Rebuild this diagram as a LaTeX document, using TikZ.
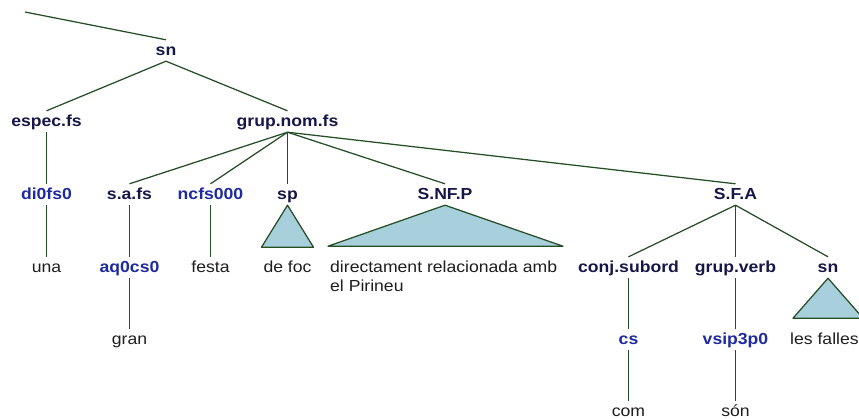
\documentclass[tikz,border=0pt]{standalone}
\usepackage{fontspec}
\setmainfont{Liberation Sans}[FakeStretch=1.1]
\definecolor{navy}{RGB}{22,22,72}
\definecolor{tagblue}{RGB}{30,42,160}
\definecolor{wordc}{RGB}{30,30,30}
\definecolor{linec}{RGB}{38,78,38}
\definecolor{trifill}{RGB}{168,208,220}
\tikzset{
  lbl/.style={anchor=base, font=\fontsize{16}{19}\selectfont\bfseries, text=navy,
    text height=12pt, text depth=3pt, inner xsep=0pt, inner ysep=3pt},
  tag/.style={lbl, text=tagblue},
  word/.style={anchor=base, font=\fontsize{16}{19}\selectfont, text=wordc,
    text height=12pt, text depth=3pt, inner xsep=0pt, inner ysep=3pt},
  edge/.style={draw=linec, line width=1.25pt},
  tri/.style={draw=linec, fill=trifill, line width=1.25pt, line join=round}
}
\begin{document}
\begin{tikzpicture}[x=1pt,y=-1pt]
\useasboundingbox (0,0) rectangle (859,418);
\clip (0,0) rectangle (859,418);
% nodes
\coordinate (root) at (25,12);
\node[lbl] (sn) at (166,55) {sn};
\node[lbl] (espec) at (46.5,126) {espec.fs};
\node[lbl] (grup) at (287.5,126) {grup.nom.fs};
\node[tag] (di) at (46.5,199) {di0fs0};
\node[lbl] (saf) at (129.5,199) {s.a.fs};
\node[tag] (nc) at (210.5,199) {ncfs000};
\node[lbl] (sp) at (287.5,199) {sp};
\node[lbl] (snfp) at (445,199) {S.NF.P};
\node[lbl] (sfa) at (735.5,199) {S.F.A};
\node[word] (una) at (46.5,272) {una};
\node[tag] (aq) at (129.5,272) {aq0cs0};
\node[word] (festa) at (210.5,272) {festa};
\node[word] (defoc) at (287.5,272) {de foc};
\node[word, anchor=base west, align=left, text height=, text depth=, inner ysep=0pt] (dir) at (330,291) {directament relacionada amb\\el Pirineu};
\node[lbl] (conj) at (628.5,272) {conj.subord};
\node[lbl] (gv) at (735.5,272) {grup.verb};
\node[lbl] (sn2) at (828,272) {sn};
\node[word] (gran) at (129.5,344) {gran};
\node[tag] (cs) at (628.5,344) {cs};
\node[tag] (vsip) at (735.5,344) {vsip3p0};
\node[word, anchor=base west] (falles) at (790,344) {les falles};
\node[word] (com) at (628.5,416) {com};
\node[word] (son) at (735.5,416) {són};
% edges
\draw[edge] (root) -- (sn.north);
\draw[edge] (sn.south) -- (espec.north);
\draw[edge] (sn.south) -- (grup.north);
\draw[edge] (espec.south) -- (di.north);
\draw[edge] (di.south) -- (una.north);
\draw[edge] (grup.south) -- (saf.north);
\draw[edge] (grup.south) -- (nc.north);
\draw[edge] (grup.south) -- (sp.north);
\draw[edge] (grup.south) -- (snfp.north);
\draw[edge] (grup.south) -- (sfa.north);
\draw[edge] (saf.south) -- (aq.north);
\draw[edge] (aq.south) -- (gran.north);
\draw[edge] (nc.south) -- (festa.north);
\draw[edge] (sfa.south) -- (conj.north);
\draw[edge] (sfa.south) -- (gv.north);
\draw[edge] (sfa.south) -- (sn2.north);
\draw[edge] (conj.south) -- (cs.north);
\draw[edge] (cs.south) -- (com.north);
\draw[edge] (gv.south) -- (vsip.north);
\draw[edge] (vsip.south) -- (son.north);
% triangles
\draw[tri] (sp.south) -- ++(-26,42) -- ++(52,0) -- cycle;
\draw[tri] (snfp.south) -- ++(-117,41) -- ++(235,0) -- cycle;
\draw[tri] (sn2.south) -- ++(-35,40) -- ++(70,0) -- cycle;
\end{tikzpicture}
\end{document}
